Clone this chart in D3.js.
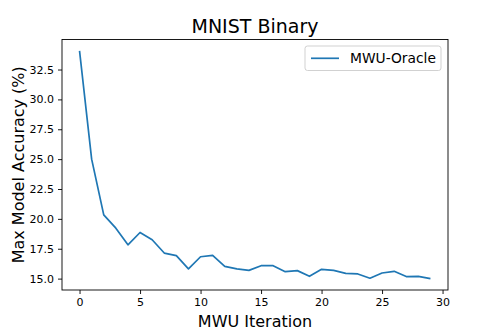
<!DOCTYPE html>
<html>
<head>
<meta charset="utf-8">
<script src="https://cdn.jsdelivr.net/npm/d3@7"></script>
<style>
  body { margin: 0; background: #fff; }
  text { font-family: "DejaVu Sans", sans-serif; fill: #000; }
</style>
</head>
<body>
<div id="chart"></div>
<script>
// data
var iterations = d3.range(0, 30);
var accuracy = [34.06, 25.0, 20.33, 19.22, 17.83, 18.86, 18.25, 17.14, 16.92, 15.81,
  16.83, 16.94, 16.03, 15.81, 15.69, 16.08, 16.08, 15.58, 15.67, 15.19,
  15.78, 15.69, 15.44, 15.39, 15.03, 15.47, 15.61, 15.17, 15.19, 15.0];
var xTicks = [0, 5, 10, 15, 20, 25, 30];
var yTicks = [15.0, 17.5, 20.0, 22.5, 25.0, 27.5, 30.0, 32.5];
var seriesName = "MWU-Oracle";

var svgWidth = 498;
var svgHeight = 332;

var margin = {
  top: 39.5,
  right: 50,
  bottom: 42,
  left: 62
};

var width = svgWidth - margin.left - margin.right;
var height = svgHeight - margin.top - margin.bottom;

var svg = d3.select("#chart")
  .append("svg")
  .attr("width", svgWidth)
  .attr("height", svgHeight);

var plot = svg.append("g")
  .attr("transform", `translate(${margin.left}, ${margin.top})`);

var data = iterations.map(function(d, i) {
  return { x: d, y: accuracy[i] };
});

// matplotlib style 5% padding
var xMin = d3.min(iterations), xMax = d3.max(iterations);
var yMin = d3.min(accuracy), yMax = d3.max(accuracy);
var xPad = (xMax - xMin) * 0.05;
var yPad = (yMax - yMin) * 0.05;

var xScale = d3.scaleLinear()
  .domain([xMin - xPad, xMax + xPad])
  .range([0, width]);

var yScale = d3.scaleLinear()
  .domain([yMin - yPad, yMax + yPad])
  .range([height, 0]);

var xAxis = d3.axisBottom(xScale)
  .tickValues(xTicks)
  .tickFormat(d3.format("d"))
  .tickSize(4)
  .tickPadding(4);

var yAxis = d3.axisLeft(yScale)
  .tickValues(yTicks)
  .tickFormat(d3.format(".1f"))
  .tickSize(4)
  .tickPadding(4);

var gx = plot.append("g")
  .attr("transform", `translate(0, ${height})`)
  .call(xAxis);

var gy = plot.append("g")
  .call(yAxis);

[gx, gy].forEach(function(g) {
  g.select(".domain").remove();
  g.selectAll(".tick line").attr("stroke", "#000").attr("stroke-width", 0.9);
  g.selectAll(".tick text")
    .style("font-family", "DejaVu Sans")
    .style("font-size", "11px")
    .attr("fill", "#000");
});

var line = d3.line()
  .x(d => xScale(d.x))
  .y(d => yScale(d.y));

plot.append("path")
  .datum(data)
  .attr("fill", "none")
  .attr("stroke", "#1f77b4")
  .attr("stroke-width", 1.7)
  .attr("stroke-linejoin", "round")
  .attr("d", line);

// axes frame
plot.append("rect")
  .attr("width", width)
  .attr("height", height)
  .attr("fill", "none")
  .attr("stroke", "#000")
  .attr("stroke-width", 0.9);

// legend
var legend = plot.append("g")
  .attr("transform", `translate(${305 - margin.left}, ${46 - margin.top})`);

legend.append("rect")
  .attr("width", 136)
  .attr("height", 24.5)
  .attr("rx", 2.5)
  .attr("fill", "#fff")
  .attr("fill-opacity", 0.8)
  .attr("stroke", "#ccc")
  .attr("stroke-width", 0.9);

legend.append("line")
  .attr("x1", 6)
  .attr("x2", 34)
  .attr("y1", 12.3)
  .attr("y2", 12.3)
  .attr("stroke", "#1f77b4")
  .attr("stroke-width", 1.7);

legend.append("text")
  .attr("x", 45)
  .attr("y", 17.3)
  .style("font-size", "13.8px")
  .text(seriesName);

// title and axis labels
svg.append("text")
  .attr("x", margin.left + width / 2)
  .attr("y", 33)
  .attr("text-anchor", "middle")
  .style("font-size", "19px")
  .text("MNIST Binary");

svg.append("text")
  .attr("x", margin.left + width / 2)
  .attr("y", 326.5)
  .attr("text-anchor", "middle")
  .style("font-size", "16px")
  .text("MWU Iteration");

svg.append("text")
  .attr("transform", `translate(24, ${margin.top + height / 2}) rotate(-90)`)
  .attr("text-anchor", "middle")
  .style("font-size", "16px")
  .text("Max Model Accuracy (%)");
</script>
</body>
</html>
